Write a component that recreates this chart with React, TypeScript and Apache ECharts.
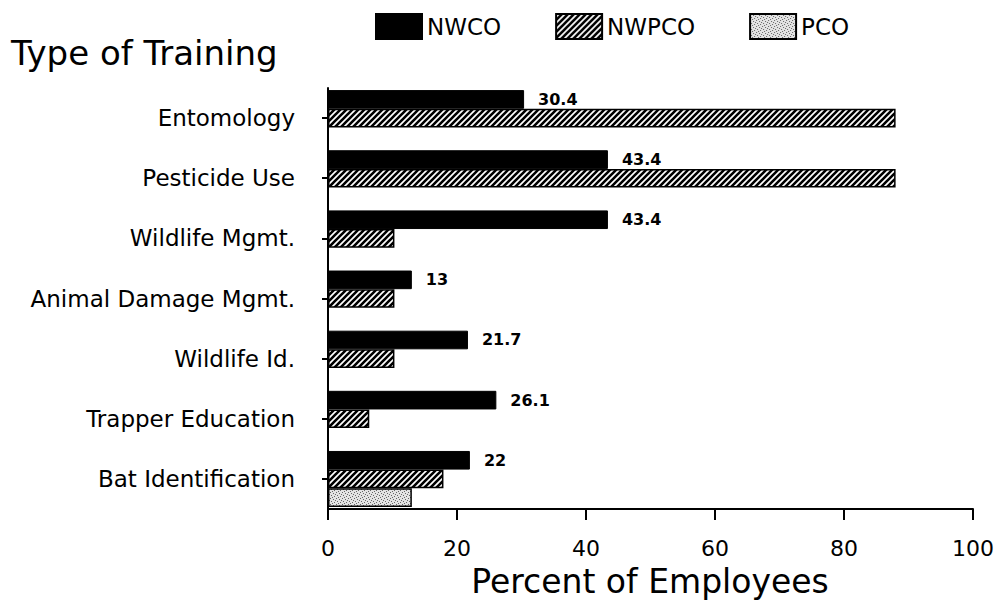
import React, { useEffect, useRef } from "react";
import * as echarts from "echarts";

const categories = [
  "Entomology",
  "Pesticide Use",
  "Wildlife Mgmt.",
  "Animal Damage Mgmt.",
  "Wildlife Id.",
  "Trapper Education",
  "Bat Identification",
];
const seriesNames = ["NWCO", "NWPCO", "PCO"];
const nwco = [30.4, 43.4, 43.4, 13, 21.7, 26.1, 22];
const nwpco = [88, 88, 10.3, 10.3, 10.3, 6.4, 17.9];
const pco: (number | string)[] = ["-", "-", "-", "-", "-", "-", 13];
const xTicks = { min: 0, max: 100, interval: 20 };
const xAxisTitle = "Percent of Employees";
const yAxisTitle = "Type of Training";

const FONT = "DejaVu Sans";

function hatchPattern() {
  const s = 6;
  const c = document.createElement("canvas");
  c.width = s;
  c.height = s;
  const g = c.getContext("2d")!;
  g.fillStyle = "#fff";
  g.fillRect(0, 0, s, s);
  g.strokeStyle = "#000";
  g.lineWidth = 2.6;
  g.beginPath();
  g.moveTo(-1, 1);
  g.lineTo(1, -1);
  g.moveTo(-1, s + 1);
  g.lineTo(s + 1, -1);
  g.moveTo(s - 1, s + 1);
  g.lineTo(s + 1, s - 1);
  g.stroke();
  return c;
}

function stipplePattern() {
  const s = 6;
  const c = document.createElement("canvas");
  c.width = s;
  c.height = s;
  const g = c.getContext("2d")!;
  g.fillStyle = "#e4e4e4";
  g.fillRect(0, 0, s, s);
  g.fillStyle = "#666";
  const dots = [
    [0, 0],
    [3, 1],
    [1, 3],
    [4, 4],
    [5, 2],
    [2, 5],
  ];
  dots.forEach(([x, y]) => g.fillRect(x, y, 1, 1));
  return c;
}

export default function App() {
  const ref = useRef<HTMLDivElement>(null);
  useEffect(() => {
    if (!ref.current) return;
    const chart = echarts.init(ref.current, null, { renderer: "svg" });
    const hatch = { image: hatchPattern(), repeat: "repeat" } as any;
    const stipple = { image: stipplePattern(), repeat: "repeat" } as any;
    chart.setOption({
      animation: false,
      backgroundColor: "#fff",
      title: {
        text: yAxisTitle,
        left: 6,
        top: 31,
        textStyle: { fontFamily: FONT, fontSize: 34, fontWeight: "normal", color: "#000" },
      },
      legend: {
        left: 370,
        top: 8,
        icon: "rect",
        itemWidth: 46,
        itemHeight: 25,
        itemGap: 54,
        data: seriesNames,
        textStyle: { fontFamily: FONT, fontSize: 23, color: "#000" },
      },
      graphic: [
        {
          type: "text",
          x: 650,
          y: 581,
          style: {
            text: xAxisTitle,
            fontFamily: FONT,
            fontSize: 33,
            fill: "#000",
            textAlign: "center",
            textVerticalAlign: "middle",
          },
        },
      ],
      grid: { left: 328, right: 29, top: 88, bottom: 93, containLabel: false, outerBoundsMode: "none" },
      xAxis: {
        type: "value",
        min: xTicks.min,
        max: xTicks.max,
        interval: xTicks.interval,
        axisLine: { show: true, lineStyle: { color: "#000", width: 2 } },
        axisTick: { show: true, length: 11, lineStyle: { color: "#000", width: 2 } },
        splitLine: { show: false },
        axisLabel: { margin: 28, fontFamily: FONT, fontSize: 22, color: "#000" },
      },
      yAxis: {
        type: "category",
        data: categories,
        inverse: true,
        axisLine: { show: true, lineStyle: { color: "#000", width: 2 } },
        axisTick: { show: true, alignWithLabel: true, length: 6, lineStyle: { color: "#000", width: 2 } },
        axisLabel: { margin: 33, fontFamily: FONT, fontSize: 23, color: "#000" },
      },
      series: [
        {
          name: seriesNames[0],
          type: "bar",
          data: nwco,
          barGap: "0%",
          barCategoryGap: "7%",
          itemStyle: { color: "#000", borderColor: "#000", borderWidth: 1 },
          label: {
            show: true,
            position: "right",
            distance: 14,
            fontFamily: FONT,
            fontSize: 16,
            fontWeight: "bold",
            color: "#000",
          },
        },
        {
          name: seriesNames[1],
          type: "bar",
          data: nwpco,
          barGap: "0%",
          barCategoryGap: "7%",
          itemStyle: { color: hatch, borderColor: "#000", borderWidth: 1.5 },
        },
        {
          name: seriesNames[2],
          type: "bar",
          data: pco,
          barGap: "0%",
          barCategoryGap: "7%",
          itemStyle: { color: stipple, borderColor: "#000", borderWidth: 1.5 },
        },
      ],
    });
    return () => chart.dispose();
  }, []);
  return (
    <div
      ref={ref}
      style={{ position: "absolute", left: 0, top: 0, width: 1002, height: 602 }}
    />
  );
}
